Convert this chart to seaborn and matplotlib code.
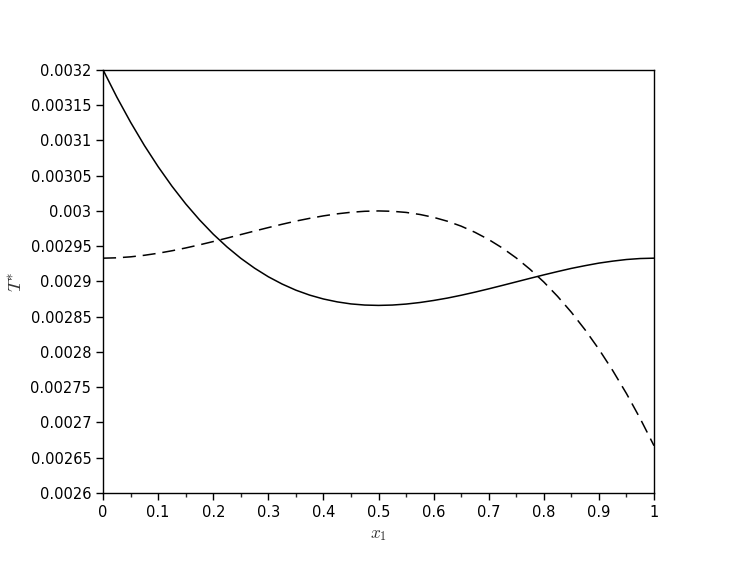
import numpy as np
import pandas as pd
import seaborn as sns
import matplotlib
matplotlib.use("Agg")
import matplotlib.pyplot as plt
from matplotlib.ticker import FuncFormatter, MultipleLocator

# values, x1 in steps of 0.025
x1 = np.round(np.arange(0, 1.0001, 0.025), 3)
t_solid = [0.0032000, 0.0031614, 0.0031257, 0.0030928, 0.0030627, 0.0030351, 0.0030100,
           0.0029874, 0.0029670, 0.0029489, 0.0029328, 0.0029188, 0.0029066, 0.0028963,
           0.0028876, 0.0028806, 0.0028751, 0.0028710, 0.0028681, 0.0028665, 0.0028660,
           0.0028665, 0.0028679, 0.0028701, 0.0028730, 0.0028764, 0.0028804, 0.0028848,
           0.0028895, 0.0028944, 0.0028994, 0.0029044, 0.0029093, 0.0029140, 0.0029185,
           0.0029224, 0.0029260, 0.0029288, 0.0029311, 0.0029325, 0.0029330]
t_dashed = [0.0029330, 0.0029335, 0.0029349, 0.0029371, 0.0029400, 0.0029435, 0.0029475,
            0.0029519, 0.0029566, 0.0029615, 0.0029665, 0.0029715, 0.0029764, 0.0029811,
            0.0029856, 0.0029895, 0.0029930, 0.0029959, 0.0029981, 0.0029995, 0.0030000,
            0.0029995, 0.0029979, 0.0029950, 0.0029909, 0.0029854, 0.0029784, 0.0029697,
            0.0029594, 0.0029473, 0.0029333, 0.0029172, 0.0028992, 0.0028788, 0.0028563,
            0.0028313, 0.0028038, 0.0027737, 0.0027410, 0.0027054, 0.0026670]

df = pd.DataFrame({
    "x1": np.concatenate([x1, x1]),
    "T": t_solid + t_dashed,
    "curve": ["solid"] * len(x1) + ["dashed"] * len(x1),
})

sns.set_style("ticks")
plt.rcParams["font.family"] = ["DejaVu Sans"]
plt.rcParams["mathtext.fontset"] = "cm"

fig = plt.figure(figsize=(7.47, 5.64), dpi=100)
ax = fig.add_axes([0.138, 0.126, 0.7375, 0.75])

sns.lineplot(data=df, x="x1", y="T", style="curve", color="black",
             dashes={"solid": "", "dashed": (8.5, 4.5)}, linewidth=1.1,
             legend=False, ax=ax, sort=False)

ax.set_xlim(0, 1)
ax.set_ylim(0.0026, 0.0032)
ax.xaxis.set_major_locator(MultipleLocator(0.1))
ax.xaxis.set_minor_locator(MultipleLocator(0.05))
ax.yaxis.set_major_locator(MultipleLocator(0.00005))
fmt = FuncFormatter(lambda v, p: f"{round(v, 6):g}")
ax.xaxis.set_major_formatter(fmt)
ax.yaxis.set_major_formatter(fmt)
ax.tick_params(axis="both", which="major", direction="out", length=5, width=1,
               labelsize=10.5, colors="black", top=False, right=False)
ax.tick_params(axis="x", which="minor", direction="out", length=3, width=1, top=False)
for s in ax.spines.values():
    s.set_visible(True)
    s.set_color("black")
    s.set_linewidth(1.0)

ax.set_xlabel("$x_1$", fontsize=12.5, color="#333333")
ax.set_ylabel("$T^{*}$", fontsize=13.5, color="#333333", labelpad=3)

fig.savefig("out.png", dpi=100)
